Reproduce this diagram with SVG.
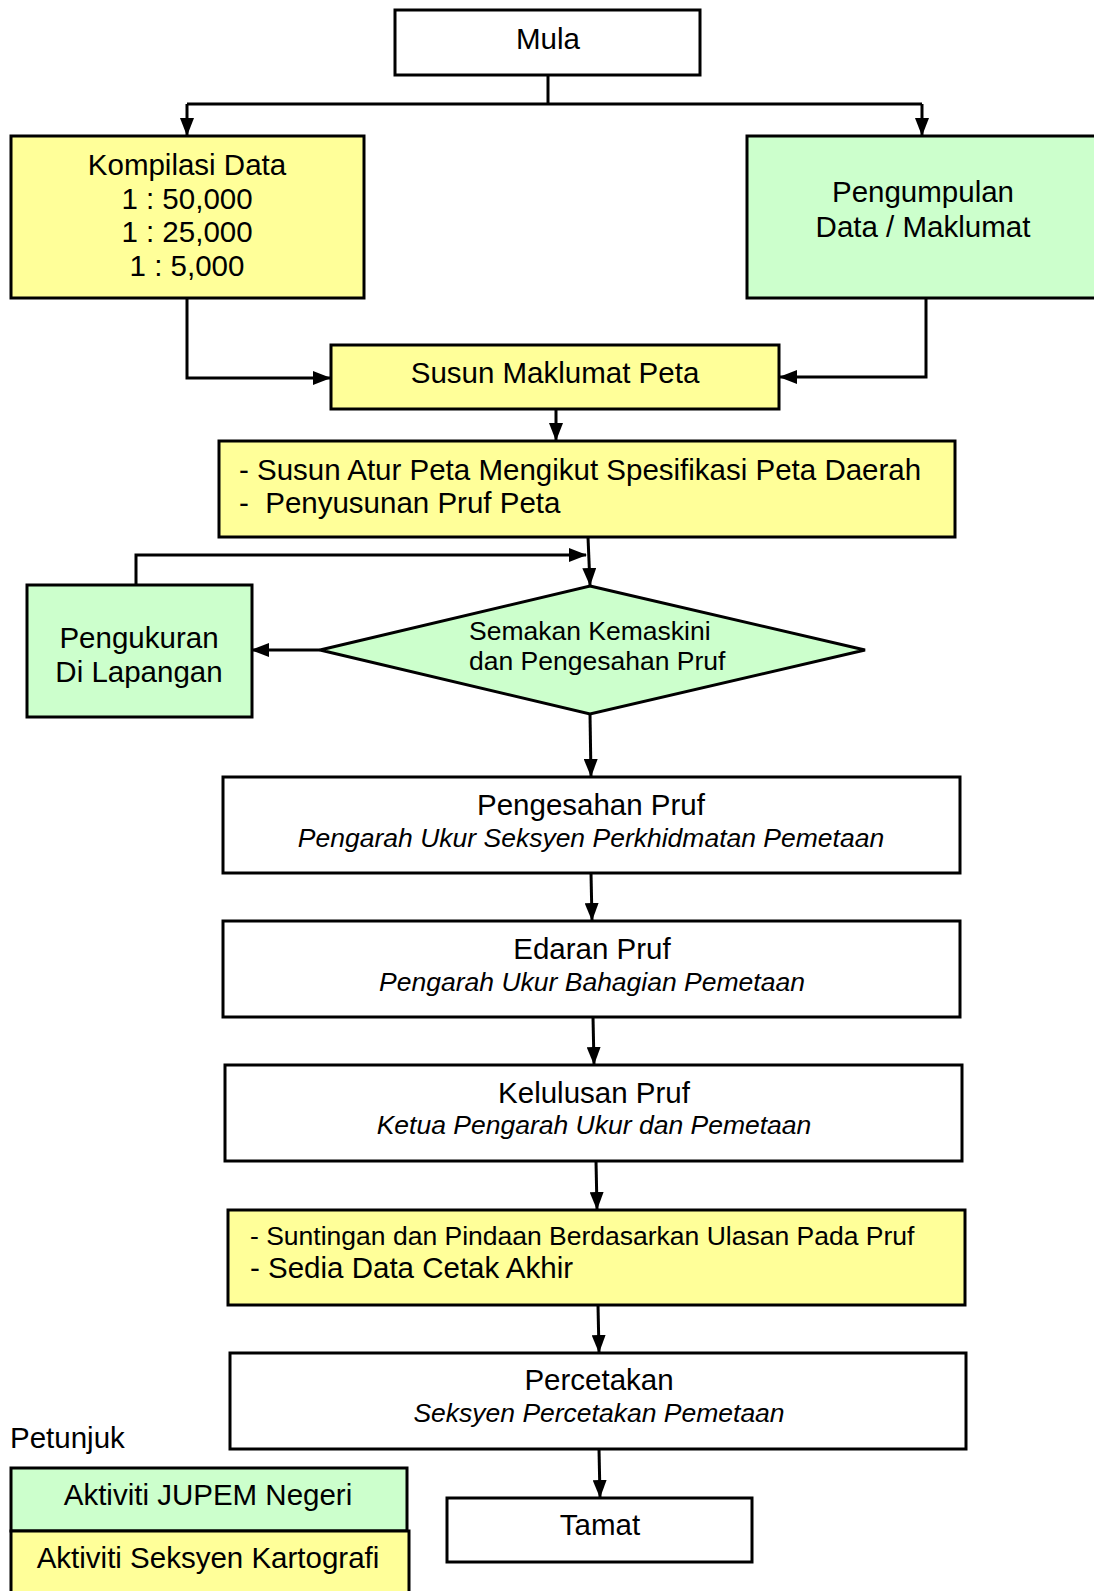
<svg xmlns="http://www.w3.org/2000/svg" width="1094" height="1591" viewBox="0 0 1094 1591">
<defs>
<marker id="ah" markerUnits="userSpaceOnUse" markerWidth="18" markerHeight="14" viewBox="0 0 18 14" refX="17" refY="7" orient="auto">
<path d="M0,0 L18,7 L0,14 Z" fill="#000"/>
</marker>
</defs>
<style>
.b{stroke:#000;stroke-width:3}
.w{fill:#fff}
.y{fill:#FFFF99}
.g{fill:#CCFFCC}
text{font-family:"Liberation Sans",Arial,sans-serif;fill:#000}
.t{font-size:29.5px}
.c{text-anchor:middle}
.i{font-size:26.5px;font-style:italic}
.d{font-size:26.5px}
.cn{fill:none;stroke:#000;stroke-width:3}
</style>
<rect width="1094" height="1591" fill="#fff"/>

<g id="connectors">
<path class="cn" d="M548,75 V104"/>
<path class="cn" d="M187,104 H922"/>
<path class="cn" d="M187,104 V135" marker-end="url(#ah)"/>
<path class="cn" d="M922,104 V135" marker-end="url(#ah)"/>
<path class="cn" d="M187,298 V378 H330" marker-end="url(#ah)"/>
<path class="cn" d="M926,298 V377 H780" marker-end="url(#ah)"/>
<path class="cn" d="M556,409 V440" marker-end="url(#ah)"/>
<path class="cn" d="M588,537 L590,585" marker-end="url(#ah)"/>
<path class="cn" d="M136,584 V555 H586" marker-end="url(#ah)"/>
<path class="cn" d="M320,650 H252" marker-end="url(#ah)"/>
<path class="cn" d="M590,714 L591,776" marker-end="url(#ah)"/>
<path class="cn" d="M591,873 L592,920" marker-end="url(#ah)"/>
<path class="cn" d="M593,1017 L594,1064" marker-end="url(#ah)"/>
<path class="cn" d="M596,1161 L597,1209" marker-end="url(#ah)"/>
<path class="cn" d="M598,1305 L599,1352" marker-end="url(#ah)"/>
<path class="cn" d="M599,1449 L600,1497" marker-end="url(#ah)"/>
</g>

<g id="mula">
<rect class="b w" x="395" y="10" width="305" height="65"/>
<text class="t c" x="548" y="49">Mula</text>
</g>

<g id="kompilasi">
<rect class="b y" x="11" y="136" width="353" height="162"/>
<text class="t c" x="187" y="175">Kompilasi Data</text>
<text class="t c" x="187" y="209">1 : 50,000</text>
<text class="t c" x="187" y="242">1 : 25,000</text>
<text class="t c" x="187" y="276">1 : 5,000</text>
</g>

<g id="pengumpulan">
<rect class="b g" x="747" y="136" width="350" height="162"/>
<text class="t c" x="923" y="202">Pengumpulan</text>
<text class="t c" x="923" y="237">Data / Maklumat</text>
</g>

<g id="susun-maklumat">
<rect class="b y" x="331" y="345" width="448" height="64"/>
<text class="t c" x="555" y="383">Susun Maklumat Peta</text>
</g>

<g id="susun-atur">
<rect class="b y" x="219" y="441" width="736" height="96"/>
<text class="t" x="239" y="480">- Susun Atur Peta Mengikut Spesifikasi Peta Daerah</text>
<text class="t" x="239" y="513" xml:space="preserve">-  Penyusunan Pruf Peta</text>
</g>

<g id="semakan">
<polygon class="b g" points="590,586 865,650 590,714 320,650"/>
<text class="d" x="469" y="640">Semakan Kemaskini</text>
<text class="d" x="469" y="670">dan Pengesahan Pruf</text>
</g>

<g id="pengukuran">
<rect class="b g" x="27" y="585" width="225" height="132"/>
<text class="t c" x="139" y="648">Pengukuran</text>
<text class="t c" x="139" y="682">Di Lapangan</text>
</g>

<g id="pengesahan">
<rect class="b w" x="223" y="777" width="737" height="96"/>
<text class="t c" x="591" y="815">Pengesahan Pruf</text>
<text class="i c" x="591" y="847">Pengarah Ukur Seksyen Perkhidmatan Pemetaan</text>
</g>

<g id="edaran">
<rect class="b w" x="223" y="921" width="737" height="96"/>
<text class="t c" x="592" y="959">Edaran Pruf</text>
<text class="i c" x="592" y="991">Pengarah Ukur Bahagian Pemetaan</text>
</g>

<g id="kelulusan">
<rect class="b w" x="225" y="1065" width="737" height="96"/>
<text class="t c" x="594" y="1103">Kelulusan Pruf</text>
<text class="i c" x="594" y="1134">Ketua Pengarah Ukur dan Pemetaan</text>
</g>

<g id="suntingan">
<rect class="b y" x="228" y="1210" width="737" height="95"/>
<text class="d" x="250" y="1245">- Suntingan dan Pindaan Berdasarkan Ulasan Pada Pruf</text>
<text class="t" x="250" y="1278">- Sedia Data Cetak Akhir</text>
</g>

<g id="percetakan">
<rect class="b w" x="230" y="1353" width="736" height="96"/>
<text class="t c" x="599" y="1390">Percetakan</text>
<text class="i c" x="599" y="1422">Seksyen Percetakan Pemetaan</text>
</g>

<g id="tamat">
<rect class="b w" x="447" y="1498" width="305" height="64"/>
<text class="t c" x="600" y="1535">Tamat</text>
</g>

<g id="legend">
<text class="t" x="10" y="1448">Petunjuk</text>
<rect class="b g" x="11" y="1468" width="396" height="63"/>
<text class="t c" x="208" y="1505">Aktiviti JUPEM Negeri</text>
<rect class="b y" x="11" y="1531" width="398" height="70"/>
<text class="t c" x="208" y="1568">Aktiviti Seksyen Kartografi</text>
</g>
</svg>
